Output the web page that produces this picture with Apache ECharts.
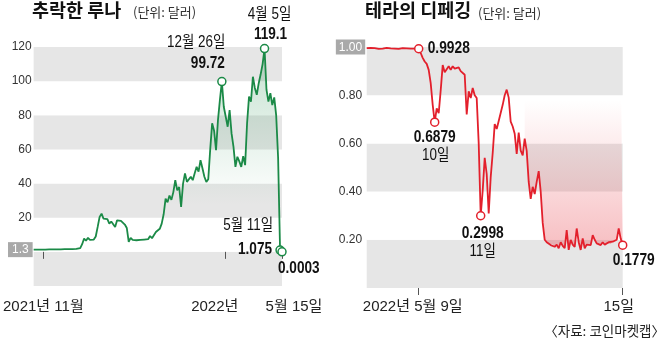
<!DOCTYPE html>
<html><head><meta charset="utf-8">
<script src="https://cdn.jsdelivr.net/npm/echarts@6/dist/echarts.min.js"></script>
<style>html,body{margin:0;padding:0;background:#fff}#c{width:658px;height:340px}</style>
</head><body><div id="c"></div>
<script>
// ---------- DATA ----------
// LUNA price (USD), sampled steps from 2021 to 2022-05-15
const lunaValues = [
 1.3,1.3,1.3,1.3,1.3,1.3,1.35,1.35,1.4,1.4,1.4,1.45,1.45,1.5,1.5,1.5,1.55,1.55,1.6,1.6,1.6,1.65,1.7,1.7,
 2.2,4.5,7.8,6.5,8.2,7.0,8.0,7.2,9.0,14.6,20.5,22.4,19.5,18.5,19.2,16.5,17.8,16.8,14.6,18.5,17.6,18.2,17.8,16.0,14.0,
 5.8,8.2,7.0,7.4,6.8,7.6,7.0,7.8,7.2,7.9,7.4,9.3,8.0,8.8,11.6,11.0,13.5,16.5,22.0,31.2,29.0,33.0,30.5,35.0,42.0,36.0,38.0,
 26.3,40.0,46.0,41.0,40.0,44.0,42.0,46.0,49.8,47.0,53.7,49.0,44.0,41.0,42.5,60.0,75.3,71.0,59.6,77.2,89.0,99.72,
 85,86,73.3,83.1,69.4,61.5,49.8,55.7,53.0,49.8,56.0,50.8,75.3,90.9,88.0,102.6,96,92,98.8,104,110,119.1,
 95,88,92.9,86,90.5,80,55,1.075,0.0003
];
const lunaCategories = lunaValues.map((_, i) => String(i));
const lunaTickIndex = [5, 99, 128];
const lunaTickLabels = ['2021년 11월', '2022년', '5월 15일'];
const lunaYTicks = [20, 40, 60, 80, 100, 120];
const lunaStartLabel = 1.3;
const lunaNoteIndex = [97, 119, 127, 128];
const lunaNoteDates = ['12월 26일', '4월 5일', '5월 11일', ''];
const lunaNoteValues = ['99.72', '119.1', '1.075', '0.0003'];

// TerraUSD price (USD), 2022-05-07 .. 05-15
const terraValues = [
 0.995,0.994,0.996,0.993,0.995,0.994,0.992,0.995,0.993,0.994,0.996,0.993,0.994,0.995,0.993,0.994,0.992,0.994,0.995,0.993,
 0.994,0.995,0.993,0.994,0.993,0.994,0.9928,
 0.975,0.955,0.94,0.93,0.905,0.85,0.76,0.6879,0.745,0.725,0.82,0.925,0.895,0.89,0.92,0.905,0.92,0.91,0.905,0.915,0.9,0.905,0.885,
 0.72,0.816,0.788,0.83,0.8,0.788,0.6,0.2998,0.405,0.54,0.473,0.309,0.46,0.56,0.68,0.66,0.693,0.7,0.76,0.8,0.823,0.79,
 0.69,0.67,0.64,0.556,0.645,0.57,0.55,0.62,0.569,0.44,0.37,0.42,0.39,0.44,0.485,0.40,0.27,0.2,0.19,0.185,0.178,0.182,
 0.171,0.18,0.165,0.19,0.175,0.165,0.24,0.158,0.2,0.18,0.171,0.247,0.19,0.158,0.206,0.165,0.18,0.172,0.178,0.219,0.2,
 0.185,0.18,0.178,0.19,0.18,0.185,0.19,0.183,0.192,0.195,0.2,0.247,0.205,0.1779
];
const terraCategories = terraValues.map((_, i) => String(i));
const terraTickIndex = [26, 128];
const terraTickLabels = ['2022년 5월 9일', '15일'];
const terraYTicks = [0.2, 0.4, 0.6, 0.8, 1.0];
const terraFillStart = 79;
const terraNoteIndex = [26, 34, 57, 128];
const terraNoteValues = ['0.9928', '0.6879', '0.2998', '0.1779'];
const terraNoteDates = ['', '10일', '11일', ''];

// ---------- STYLE ----------
const GREEN = '#1b8a47', RED = '#e3202c', BAND = '#e6e6e6', BOX = '#a9a9a9';
const SANS = '"Liberation Sans","Noto Sans CJK KR",sans-serif';
const KR = '"Noto Sans CJK KR","Noto Sans",sans-serif';

const chart = echarts.init(document.getElementById('c'), null, {renderer: 'canvas'});

function xLabelRich(pads) {
  const r = {};
  pads.forEach((p, k) => { r['s' + k] = {fontFamily: SANS, fontSize: 15, color: '#222', padding: p}; });
  return r;
}

const option = {
  animation: false,
  backgroundColor: '#fff',
  grid: [
    {left: 27, top: 47, width: 255, height: 239},
    {left: 366.7, top: 47, width: 256, height: 241}
  ],
  xAxis: [
    {gridIndex: 0, type: 'category', data: lunaCategories, boundaryGap: false,
     axisLine: {show: false},
     axisTick: {show: true, interval: (i) => lunaTickIndex.includes(i), length: 7, lineStyle: {color: '#555'}},
     axisLabel: {interval: (i) => lunaTickIndex.includes(i), margin: 13,
       formatter: (v, i) => { const k = lunaTickIndex.indexOf(i); return k < 0 ? '' : '{s' + k + '|' + lunaTickLabels[k] + '}'; },
       rich: xLabelRich([[0,0,0,0],[0,22,0,0],[0,0,0,24]])},
     splitLine: {show: false}},
    {gridIndex: 1, type: 'category', data: terraCategories, boundaryGap: false,
     axisLine: {show: false},
     axisTick: {show: true, interval: (i) => terraTickIndex.includes(i), length: 7, lineStyle: {color: '#555'}},
     axisLabel: {interval: (i) => terraTickIndex.includes(i), margin: 11,
       formatter: (v, i) => { const k = terraTickIndex.indexOf(i); return k < 0 ? '' : '{s' + k + '|' + terraTickLabels[k] + '}'; },
       rich: xLabelRich([[0,12,0,0],[0,8,0,0]])},
     splitLine: {show: false}}
  ],
  yAxis: [
    {gridIndex: 0, type: 'value', min: -20, max: 120, interval: 20,
     axisLine: {show: false}, axisTick: {show: false}, splitLine: {show: false},
     splitArea: {show: true, areaStyle: {color: [BAND, '#ffffff']}},
     axisLabel: {margin: 2, fontFamily: SANS, fontSize: 12, color: '#333',
       formatter: (v) => lunaYTicks.includes(v) ? String(v) : ''}},
    {gridIndex: 1, type: 'value', min: 0, max: 1, interval: 0.2,
     axisLine: {show: false}, axisTick: {show: false}, splitLine: {show: false},
     splitArea: {show: true, areaStyle: {color: [BAND, '#ffffff']}},
     axisLabel: {margin: 1.5, fontFamily: SANS, fontSize: 12, color: '#333',
       formatter: (v) => {
         const t = terraYTicks.find(x => Math.abs(x - v) < 1e-9);
         if (t === undefined) return '';
         return Math.abs(t - 1) < 1e-9 ? '{b|' + t.toFixed(2) + '}' : '{n|' + t.toFixed(2) + '}';
       },
       rich: {
         b: {backgroundColor: BOX, color: '#fff', padding: [2, 3, 1, 3], fontFamily: SANS, fontSize: 12},
         n: {color: '#333', padding: [0, 3, 0, 0], fontFamily: SANS, fontSize: 12}
       }}}
  ],
  series: [
    {name: '루나', type: 'line', xAxisIndex: 0, yAxisIndex: 0, data: lunaValues, symbol: 'none', z: 3,
     lineStyle: {color: GREEN, width: 1.8}, itemStyle: {color: GREEN},
     areaStyle: {origin: 'start', color: {type: 'linear', x: 0, y: 60, x2: 0, y2: 205, global: true,
       colorStops: [{offset: 0, color: 'rgba(27,138,71,0.34)'}, {offset: 1, color: 'rgba(27,138,71,0)'}]}},
     markPoint: {symbol: 'circle', symbolSize: 8, silent: true,
       itemStyle: {color: '#fff', borderColor: GREEN, borderWidth: 1.5}, label: {show: false},
       data: lunaNoteIndex.map(i => ({coord: [i, lunaValues[i]]}))}},
    {name: '테라', type: 'line', xAxisIndex: 1, yAxisIndex: 1, data: terraValues, stack: 'terra', symbol: 'none', z: 3,
     lineStyle: {color: RED, width: 1.8}, itemStyle: {color: RED},
     markPoint: {symbol: 'circle', symbolSize: 8, silent: true,
       itemStyle: {color: '#fff', borderColor: RED, borderWidth: 1.5}, label: {show: false},
       data: terraNoteIndex.map(i => ({coord: [i, terraValues[i]]}))}},
    {name: 'gap', type: 'line', xAxisIndex: 1, yAxisIndex: 1, stack: 'terra', symbol: 'none', z: 2, silent: true,
     data: terraValues.map((v, i) => i >= terraFillStart ? +(1 - v).toFixed(4) : '-'),
     lineStyle: {width: 0, opacity: 0},
     areaStyle: {color: {type: 'linear', x: 0, y: 100, x2: 0, y2: 250, global: true,
       colorStops: [{offset: 0, color: 'rgba(227,32,44,0)'}, {offset: 1, color: 'rgba(227,32,44,0.42)'}]}}}
  ]
};
chart.setOption(option);

// ---------- TEXT ANNOTATIONS ----------
function txt(x, y, text, font, align, sx, color, extra) {
  const st = {text: text, x: 0, y: 0, font: font, fill: color || '#111',
      align: align, verticalAlign: 'middle', textAlign: align, textVerticalAlign: 'middle'};
  if (extra) Object.assign(st, extra);
  return {type: 'text', x: x, y: y, scaleX: sx || 1, silent: true, z: 10, style: st};
}
const DATEF = '16px ' + SANS, VALF = 'bold 17px ' + SANS;
const g = [];
g.push(txt(32, 9.5, '추락한 루나', 'bold 18.5px ' + KR, 'left'));
g.push(txt(133, 12.5, '(단위: 달러)', '13px ' + KR, 'left', 1, '#333'));
g.push(txt(365, 10, '테라의 디페깅', 'bold 18.5px ' + KR, 'left'));
g.push(txt(478, 13, '(단위: 달러)', '13px ' + KR, 'left', 1, '#333'));
g.push(txt(665, 331, '〈자료: 코인마켓캡〉', '13.5px ' + KR, 'right', 1, '#222'));

// start value box on the left axis
const sp = chart.convertToPixel({gridIndex: 0}, [0, lunaStartLabel]);
g.push(txt(sp[0] - 1, sp[1], String(lunaStartLabel), '12px ' + SANS, 'right', 1, '#fff',
  {backgroundColor: BOX, padding: [2, 4, 1, 4]}));

const lp = lunaNoteIndex.map(i => chart.convertToPixel({gridIndex: 0}, [i, lunaValues[i]]));
g.push(txt(lp[0][0] + 3.5, lp[0][1] - 39, lunaNoteDates[0], DATEF, 'right', 0.84));
g.push(txt(lp[0][0] + 3, lp[0][1] - 18.5, lunaNoteValues[0], VALF, 'right', 0.8));
g.push(txt(lp[1][0] + 5, lp[1][1] - 34, lunaNoteDates[1], DATEF, 'center', 0.84));
g.push(txt(lp[1][0] + 6, lp[1][1] - 14, lunaNoteValues[1], VALF, 'center', 0.8));
g.push(txt(lp[2][0] - 7, lp[2][1] - 24, lunaNoteDates[2], DATEF, 'right', 0.84));
g.push(txt(lp[2][0] - 8, lp[2][1] - 1, lunaNoteValues[2], VALF, 'right', 0.8));
g.push(txt(lp[3][0] - 4, lp[3][1] + 16, lunaNoteValues[3], VALF, 'left', 0.8));

const tp = terraNoteIndex.map(i => chart.convertToPixel({gridIndex: 1}, [i, terraValues[i]]));
g.push(txt(tp[0][0] + 9, tp[0][1], terraNoteValues[0], VALF, 'left', 0.81));
g.push(txt(tp[1][0], tp[1][1] + 15, terraNoteValues[1], VALF, 'center', 0.81));
g.push(txt(tp[1][0] + 1, tp[1][1] + 33, terraNoteDates[1], DATEF, 'center', 0.84));
g.push(txt(tp[2][0] + 2, tp[2][1] + 17.5, terraNoteValues[2], VALF, 'center', 0.81));
g.push(txt(tp[2][0] + 2, tp[2][1] + 35.5, terraNoteDates[2], DATEF, 'center', 0.84));
g.push(txt(tp[3][0] + 11, tp[3][1] + 15.5, terraNoteValues[3], VALF, 'center', 0.81));

chart.setOption({graphic: g});
</script>
</body></html>
